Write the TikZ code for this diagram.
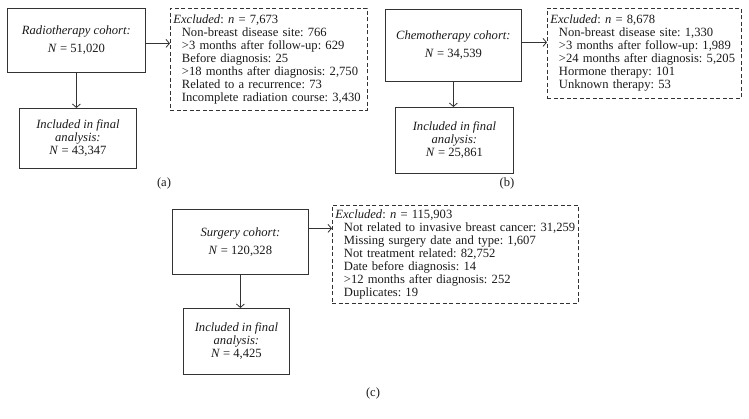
\documentclass[tikz,border=0pt]{standalone}
\usepackage{fontspec}
\setmainfont{Liberation Serif}
\usetikzlibrary{arrows.meta}
\frenchspacing
\definecolor{lineg}{HTML}{333333}
\definecolor{textg}{HTML}{1A1A1A}
\tikzset{
  txt/.style={font=\fontsize{12.6pt}{13pt}\selectfont\frenchspacing, text=textg},
  cohortbox/.style={txt, draw=lineg, line width=0.8pt, align=center, inner sep=0pt, anchor=north west},
  exbox/.style={txt, draw=lineg, line width=0.8pt, dash pattern=on 4pt off 2.5pt, align=left,
    inner xsep=3pt, inner ysep=0pt, anchor=north west},
  arr/.style={draw=lineg, line width=0.8pt, -{Straight Barb[length=3.5pt,width=8pt]}},
  panellabel/.style={txt}
}
\newcommand{\ind}{\hspace*{8.5pt}}
\newcommand{\exline}[1]{\mbox{\ind #1}}
\begin{document}
\begin{tikzpicture}[x=1pt,y=-1pt]
\useasboundingbox (0,0) rectangle (749,419);
% (a)
\node[cohortbox, minimum width=138pt, minimum height=64pt] (rt) at (7,8)
  {\textit{Radiotherapy cohort:}\\[5pt]\textit{N} = 51,020};
\node[cohortbox, minimum width=117pt, minimum height=60pt] (inca) at (19,108)
  {\textit{Included in final}\\\textit{analysis:}\\\textit{N} = 43,347};
\node[exbox, text width=191pt, minimum height=102pt] (exa) at (170,8)
  {\textit{Excluded}: \textit{n} = 7,673\\
   \exline{Non-breast disease site: 766}\\
   \exline{>3 months after follow-up: 629}\\
   \exline{Before diagnosis: 25}\\
   \exline{>18 months after diagnosis: 2,750}\\
   \exline{Related to a recurrence: 73}\\
   \exline{Incomplete radiation course: 3,430}};
\draw[arr] (rt.south) -- (rt.south |- inca.north);
\draw[arr] ([yshift=-3pt]rt.east) -- ([yshift=-3pt]rt.east -| exa.west);
\node[panellabel] (la) at (164,183) {(a)};
% (b)
\node[cohortbox, minimum width=136pt, minimum height=72pt] (ch) at (385,9)
  {\textit{Chemotherapy cohort:}\\[5pt]\textit{N} = 34,539};
\node[cohortbox, minimum width=118pt, minimum height=66pt] (incb) at (395,107)
  {\textit{Included in final}\\\textit{analysis:}\\\textit{N} = 25,861};
\node[exbox, text width=188pt, minimum height=90pt] (exb) at (547,8)
  {\textit{Excluded}: \textit{n} = 8,678\\
   \exline{Non-breast disease site: 1,330}\\
   \exline{>3 months after follow-up: 1,989}\\
   \exline{>24 months after diagnosis: 5,205}\\
   \exline{Hormone therapy: 101}\\
   \exline{Unknown therapy: 53}};
\draw[arr] (ch.south) -- (ch.south |- incb.north);
\draw[arr] ([yshift=3pt]ch.east) -- ([yshift=3pt]ch.east -| exb.west);
\node[panellabel] (lb) at (507,183) {(b)};
% (c)
\node[cohortbox, minimum width=136pt, minimum height=65pt] (su) at (172,209)
  {\textit{Surgery cohort:}\\[5pt]\textit{N} = 120,328};
\node[cohortbox, minimum width=106pt, minimum height=66pt] (incc) at (183,308)
  {\textit{Included in final}\\\textit{analysis:}\\\textit{N} = 4,425};
\node[exbox, text width=240pt, minimum height=98pt] (exc) at (332,205)
  {\textit{Excluded}: \textit{n} = 115,903\\
   \exline{Not related to invasive breast cancer: 31,259}\\
   \exline{Missing surgery date and type: 1,607}\\
   \exline{Not treatment related: 82,752}\\
   \exline{Date before diagnosis: 14}\\
   \exline{>12 months after diagnosis: 252}\\
   \exline{Duplicates: 19}};
\draw[arr] (su.south) -- (su.south |- incc.north);
\draw[arr] ([yshift=13.5pt]su.east) -- ([yshift=13.5pt]su.east -| exc.west);
\node[panellabel] (lc) at (373,393) {(c)};
\end{tikzpicture}
\end{document}
